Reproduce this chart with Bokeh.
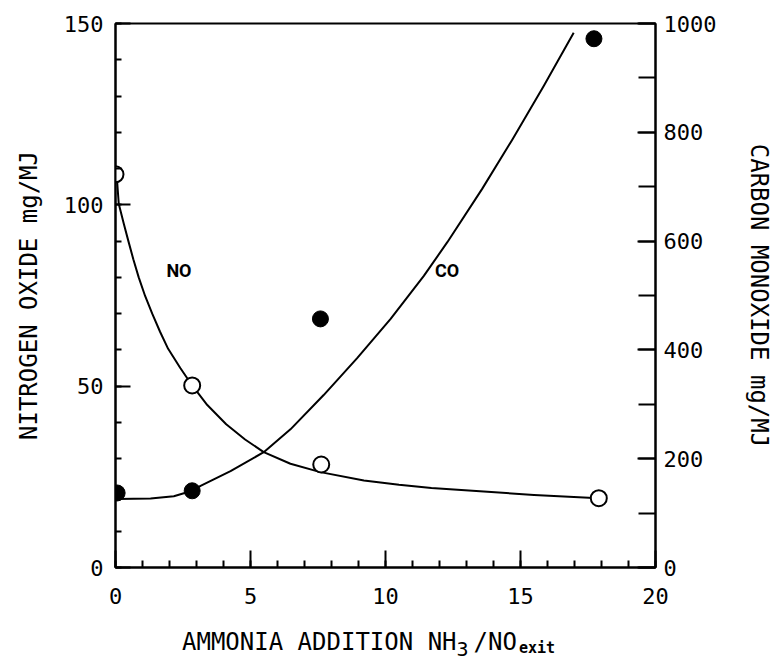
from bokeh.plotting import figure
from bokeh.models import Range1d, LinearAxis, SingleIntervalTicker, Label
from bokeh.layouts import column
from bokeh.core.properties import value
from bokeh.embed import file_html
from bokeh.resources import INLINE

# ---- data ----
no_x = [0.0, 2.84, 7.62, 17.9]
no_y = [108.4, 50.2, 28.4, 19.1]           # mg/MJ (left axis)
co_x = [0.06, 2.84, 7.59, 17.72]
co_y = [137, 141, 457, 972]                 # mg/MJ (right axis)

no_curve_x = [0.05, 0.12, 0.3, 0.47, 0.66, 0.86, 1.1, 1.36, 1.65, 1.95, 2.4, 2.84, 3.4, 4.1, 4.8, 5.49, 6.48, 7.59, 9.2, 10.5, 11.7, 13.5, 15.5, 17.9]
no_curve_y = [107.5, 100.3, 95.0, 90.2, 85.0, 80.0, 74.8, 70.0, 65.0, 60.3, 55.0, 50.2, 44.8, 39.5, 35.3, 31.8, 28.6, 26.3, 24.0, 22.8, 21.9, 21.0, 20.0, 19.1]

co_curve_x = [0.05, 1.3, 2.16, 2.84, 3.15, 4.26, 5.49, 6.48, 7.71, 8.95, 10.19, 11.42, 12.29, 13.58, 14.69, 15.86, 16.97]
co_curve_y = [126, 127, 131, 141, 150, 177, 212, 254, 317, 385, 457, 536, 598, 696, 786, 885, 983]

x_range = (0, 20)
no_range = (0, 150)
co_range = (0, 1000)

x_title = ["AMMONIA ADDITION NH", "3", "/NO", "exit"]
y_title = "NITROGEN OXIDE mg/MJ"
y2_title = "CARBON MONOXIDE mg/MJ"

FONT = "DejaVu Sans Mono"
W = 776
BL, BR = 115, 121

p = figure(width=W, height=620, x_range=Range1d(*x_range), y_range=Range1d(*no_range),
           output_backend="svg", toolbar_location=None, title=None,
           min_border_left=BL, min_border_right=BR, min_border_top=23, min_border_bottom=53)
p.extra_y_ranges = {"co": Range1d(*co_range)}

p.xgrid.visible = False
p.ygrid.visible = False
p.outline_line_color = "black"
p.outline_line_width = 2
p.outline_line_alpha = 1.0
p.background_fill_color = "white"
p.border_fill_color = "white"

xax = p.xaxis[0]
yax = p.yaxis[0]
xax.ticker = SingleIntervalTicker(interval=5, num_minor_ticks=5)
yax.ticker = SingleIntervalTicker(interval=50, num_minor_ticks=5)
yax.axis_label = y_title

rax = LinearAxis(y_range_name="co", ticker=SingleIntervalTicker(interval=200, num_minor_ticks=2),
                 axis_label=y2_title)
p.add_layout(rax, "right")

for ax in (xax, yax, rax):
    ax.axis_line_color = "black"
    ax.axis_line_width = 2
    ax.major_tick_line_color = "black"
    ax.minor_tick_line_color = "black"
    ax.major_tick_line_width = 2
    ax.minor_tick_line_width = 2
    ax.major_tick_out = 0
    ax.minor_tick_out = 0
    ax.major_label_text_font = FONT
    ax.major_label_text_font_size = "22px"
    ax.major_label_text_color = "black"
    ax.axis_label_text_font = FONT
    ax.axis_label_text_font_size = "24px"
    ax.axis_label_text_font_style = "normal"
    ax.axis_label_text_color = "black"

xax.major_tick_in = 17
xax.minor_tick_in = 7
xax.major_label_standoff = 20
yax.major_tick_in = 15
yax.minor_tick_in = 6
yax.major_label_standoff = 12
yax.axis_label_standoff = 18
rax.major_tick_in = 18
rax.minor_tick_in = 17
rax.major_label_standoff = 8
rax.axis_label_standoff = 26

# curves
p.line(no_curve_x, no_curve_y, line_color="black", line_width=2, line_join="round")
p.line(co_curve_x, co_curve_y, line_color="black", line_width=2, line_join="round", y_range_name="co")

# points
p.scatter(no_x, no_y, marker="circle", size=16, fill_color="white", line_color="black", line_width=2)
p.scatter(co_x, co_y, marker="circle", size=16, fill_color="black", line_color="black", line_width=1,
          y_range_name="co")

# series labels
for txt, lx, ly in (("NO", 2.35, 81.9), ("CO", 12.28, 81.9)):
    p.add_layout(Label(x=lx, y=ly, text=txt, text_align="center", text_baseline="middle",
                       text_font="Roboto", text_font_style="bold",
                       text_font_size="18px", text_color="black"))

# ---- x-axis title strip (with subscripts); its frame is aligned with the plot frame ----
H2 = 39
t = figure(width=W, height=H2, x_range=Range1d(BL, W - BR), y_range=Range1d(0, H2),
           output_backend="svg", toolbar_location=None, x_axis_type=None, y_axis_type=None,
           title=None, min_border_left=BL, min_border_right=BR, min_border_top=0, min_border_bottom=0,
           outline_line_color=None)
t.xgrid.visible = False
t.ygrid.visible = False

s_main, s_sub, s_exit = 24, 20, 15
w_main = 0.602 * s_main * len(x_title[0])
w_sub = 0.602 * s_sub + 5
w_no = 0.602 * s_main * len(x_title[2])
w_exit = 0.602 * s_exit * len(x_title[3])
total = w_main + w_sub + w_no + 2 + w_exit
x_start = 368 - total / 2
pieces = [
    (x_title[0], x_start, 18, s_main, "normal"),
    (x_title[1], x_start + w_main, 11, s_sub, "normal"),
    (x_title[2], x_start + w_main + w_sub, 18, s_main, "normal"),
    (x_title[3], x_start + w_main + w_sub + w_no + 2, 12, s_exit, "bold"),
]
for txt, px, py, fs, fw in pieces:
    t.text(x=[px], y=[py], text=[txt], text_align="left", text_baseline="alphabetic",
           text_font=value(FONT), text_font_size=f"{fs}px", text_font_style=fw, text_color="black")

layout = column(p, t, spacing=0)
open("out.html", "w").write(file_html(layout, INLINE))
